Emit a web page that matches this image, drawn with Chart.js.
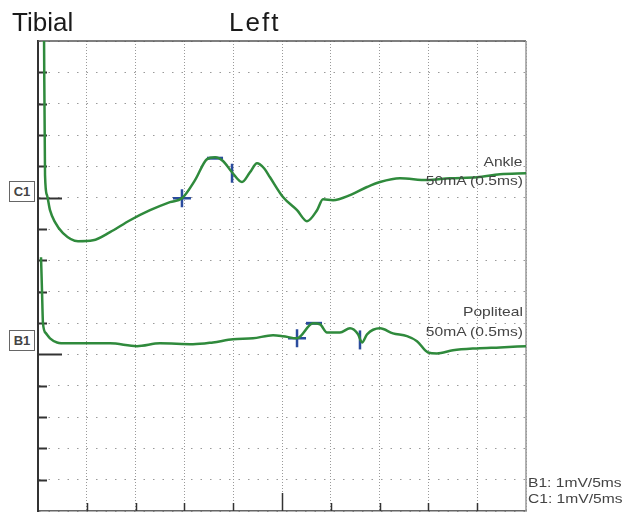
<!DOCTYPE html>
<html>
<head>
<meta charset="utf-8">
<script src="https://cdn.jsdelivr.net/npm/chart.js@4.4.0/dist/chart.umd.min.js"></script>
<style>
body { margin: 0; background: #fff; font-family: "Liberation Sans", Arial, sans-serif; }
#wrap { position: relative; width: 627px; height: 514px; overflow: hidden; }
#chart { position: absolute; left: 0; top: 0; }
.txt { position: absolute; white-space: nowrap; color: #333; line-height: 1; }
.title { font-size: 26px; color: #1a1a1a; }
.lbl { font-size: 13px; color: #444; transform: scaleX(1.2); transform-origin: right top; text-align: right; }
.scl { font-size: 13px; color: #444; transform: scaleX(1.2); transform-origin: left top; }
.box { position: absolute; width: 24px; height: 19px; border: 1.5px solid #666; background: #fff;
       font-size: 13px; font-weight: bold; color: #444; text-align: center; line-height: 19px; }
</style>
</head>
<body>
<div id="wrap">
  <canvas id="chart" width="627" height="514"></canvas>
  <div class="txt title" style="left:12px;top:9px">Tibial</div>
  <div class="txt title" style="left:229px;top:9px;letter-spacing:2px">Left</div>
  <div class="box" style="left:9px;top:181px">C1</div>
  <div class="box" style="left:9px;top:330px">B1</div>
  <div class="txt lbl" style="right:104px;top:155px">Ankle</div>
  <div class="txt lbl" style="right:104px;top:174px">50mA (0.5ms)</div>
  <div class="txt lbl" style="right:104px;top:305px">Popliteal</div>
  <div class="txt lbl" style="right:104px;top:325px">50mA (0.5ms)</div>
  <div class="txt scl" style="left:528px;top:476px">B1: 1mV/5ms</div>
  <div class="txt scl" style="left:528px;top:492px">C1: 1mV/5ms</div>
</div>
<script>
// time in ms (5 ms / division), amplitude in divisions (1 mV / division)
const c1Time = [0.61, 0.72, 0.92, 1.23, 1.74, 2.56, 4.10, 5.64, 7.38, 9.43,
                11.48, 13.52, 14.75, 16.09, 17.32, 18.14, 18.95, 19.88, 20.90, 21.72,
                22.44, 23.16, 23.77, 25.10, 26.54, 27.56, 28.59, 29.20, 30.23, 31.97,
                33.71, 35.04, 37.09, 39.86, 42.21, 44.98, 47.34, 50.0]
const c1Amp = [15.6, 10.72, 10.08, 9.60, 9.22, 8.87, 8.61, 8.64, 8.90, 9.28,
               9.60, 9.86, 9.98, 10.56, 11.23, 11.29, 11.17, 10.81, 10.50, 10.81,
               11.10, 10.94, 10.65, 10.02, 9.60, 9.25, 9.60, 9.95, 9.92, 10.08,
               10.34, 10.50, 10.62, 10.56, 10.62, 10.65, 10.75, 10.78]

const b1Time = [0.31, 0.41, 0.51, 0.82, 1.23, 1.95, 2.97, 5.12, 7.38, 10.14,
                12.50, 15.88, 17.93, 19.98, 22.03, 24.08, 25.10, 26.54, 28.18, 28.89,
                29.61, 30.94, 31.97, 32.79, 33.20, 33.71, 35.04, 36.37, 37.81, 38.83,
                39.96, 40.88, 42.52, 44.98, 47.34, 50.0]
const b1Amp = [8.10, 7.04, 5.99, 5.67, 5.51, 5.38, 5.35, 5.35, 5.35, 5.26,
               5.35, 5.32, 5.38, 5.48, 5.51, 5.61, 5.58, 5.51, 5.99, 5.96,
               5.70, 5.70, 5.83, 5.64, 5.38, 5.64, 5.83, 5.67, 5.58, 5.42,
               5.06, 5.03, 5.13, 5.19, 5.22, 5.26]

// cursor markers: onset (cross), peak (bar), end (vertical bar) -> C1, B1
const onsetTime = [14.75, 26.54]
const onsetAmp = [9.98, 5.51]
const peakTime = [18.14, 28.28]
const peakAmp = [11.26, 5.99]
const endTime = [19.88, 32.99]
const endAmp = [10.78, 5.46]

// channel baselines (divisions)
const baselines = [10, 5]
const xTicks = [0, 5, 10, 15, 20, 25, 30, 35, 40, 45, 50]

const pts = (xs, ys) => xs.map((x, i) => ({ x: x, y: ys[i] }))

const traceColor = '#2f8a3c'
const markColor = '#2b4c9e'

const frame = {
    id: 'frame',
    beforeDatasetsDraw(chart) {
        const { ctx, chartArea: a, scales: { x, y } } = chart
        ctx.save()
        // left axis ticks
        ctx.strokeStyle = '#333'
        ctx.lineWidth = 2
        for (let v = 1; v < 15; v++) {
            const py = Math.round(y.getPixelForValue(v)) + 0.5
            const len = baselines.includes(v) ? 24 : 9
            ctx.beginPath()
            ctx.moveTo(a.left - 1, py)
            ctx.lineTo(a.left + len, py)
            ctx.stroke()
        }
        // bottom axis ticks
        ctx.lineWidth = 1.5
        xTicks.slice(1, -1).forEach(v => {
            const px = Math.round(x.getPixelForValue(v)) + 0.5
            const len = v === 25 ? 18 : 8
            ctx.beginPath()
            ctx.moveTo(px, a.bottom)
            ctx.lineTo(px, a.bottom - len)
            ctx.stroke()
        })
        // top and right frame
        ctx.strokeStyle = '#555'
        ctx.lineWidth = 1.5
        ctx.beginPath()
        ctx.moveTo(a.left, a.top)
        ctx.lineTo(a.right, a.top)
        ctx.stroke()
        ctx.strokeStyle = '#999'
        ctx.beginPath()
        ctx.moveTo(a.right, a.top)
        ctx.lineTo(a.right, a.bottom)
        ctx.stroke()
        ctx.restore()
    }
}

new Chart(document.getElementById('chart'), {
    type: 'line',
    data: {
        datasets: [
            { data: pts(c1Time, c1Amp), borderColor: traceColor, borderWidth: 2.5,
              pointRadius: 0, cubicInterpolationMode: 'monotone', fill: false },
            { data: pts(b1Time, b1Amp), borderColor: traceColor, borderWidth: 2.5,
              pointRadius: 0, cubicInterpolationMode: 'monotone', fill: false },
            { type: 'scatter', data: pts(onsetTime, onsetAmp), pointStyle: 'cross',
              pointRadius: 9, borderColor: markColor, pointBorderWidth: 2.5 },
            { type: 'scatter', data: pts(peakTime, peakAmp), pointStyle: 'line',
              pointRadius: 8, borderColor: markColor, pointBorderWidth: 3 },
            { type: 'scatter', data: pts(endTime, endAmp), pointStyle: 'line', rotation: 90,
              pointRadius: 9.5, borderColor: markColor, pointBorderWidth: 2.5 }
        ]
    },
    options: {
        responsive: false,
        animation: false,
        events: [],
        layout: { autoPadding: false, padding: { left: 38, top: 41, right: 101, bottom: 3 } },
        plugins: { legend: { display: false }, tooltip: { enabled: false } },
        scales: {
            x: {
                type: 'linear', min: 0, max: 50,
                afterFit: s => { s.height = 0 },
                afterBuildTicks: s => { s.ticks = xTicks.map(v => ({ value: v })) },
                ticks: { display: false },
                grid: { color: '#9a9a9a', lineWidth: 1, drawTicks: false },
                border: { display: true, color: '#666', width: 1.5, dash: [1, 2] }
            },
            y: {
                type: 'linear', min: 0, max: 15,
                afterFit: s => { s.width = 0 },
                ticks: { display: false, stepSize: 1 },
                grid: { color: '#9a9a9a', lineWidth: 1, drawTicks: false },
                border: { display: true, color: '#333', width: 2, dash: [1.5, 8] }
            }
        }
    },
    plugins: [frame]
})
</script>
</body>
</html>
